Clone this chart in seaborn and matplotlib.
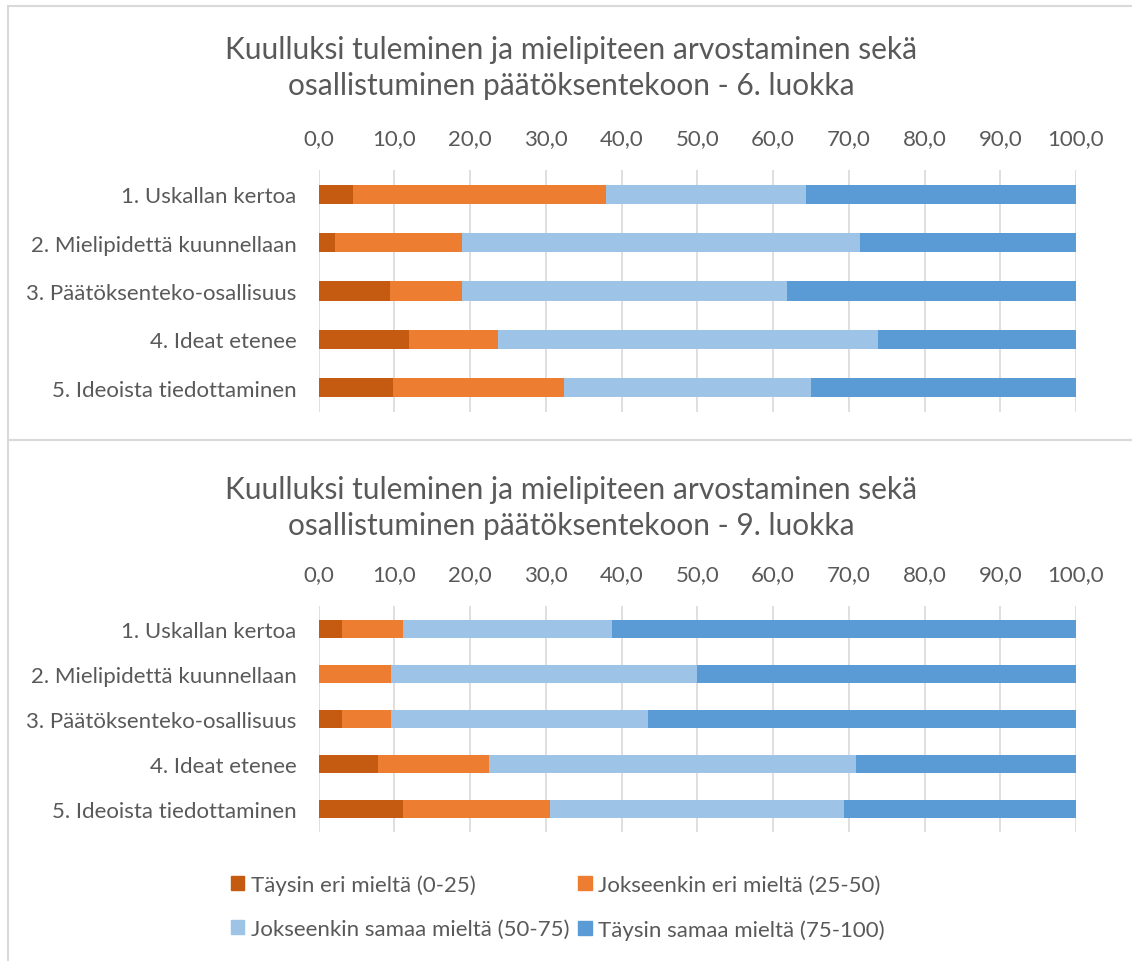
import numpy as np
import seaborn as sns
import matplotlib.pyplot as plt
from matplotlib.patches import Patch, Rectangle

sns.set_style("white")
plt.rcParams['font.family'] = ['Lato', 'DejaVu Sans']

# kysymykset ja vastausluokat
kysymykset = ['1. Uskallan kertoa', '2. Mielipidettä kuunnellaan',
              '3. Päätöksenteko-osallisuus', '4. Ideat etenee',
              '5. Ideoista tiedottaminen']
luokat = ['Täysin eri mieltä (0-25)', 'Jokseenkin eri mieltä (25-50)',
          'Jokseenkin samaa mieltä (50-75)', 'Täysin samaa mieltä (75-100)']
varit = ['#C55A11', '#ED7D31', '#9DC3E6', '#5B9BD5']
harmaa = '#595959'

# 6. luokka (%)
taysin_eri_6 = [4.6, 2.2, 9.4, 11.9, 9.8]
jokseenkin_eri_6 = [33.4, 16.8, 9.6, 11.8, 22.6]
jokseenkin_samaa_6 = [26.3, 52.5, 42.9, 50.2, 32.6]
taysin_samaa_6 = [35.7, 28.5, 38.1, 26.1, 35.0]

# 9. luokka (%)
taysin_eri_9 = [3.1, 0.0, 3.1, 7.9, 11.2]
jokseenkin_eri_9 = [8.1, 9.6, 6.5, 14.6, 19.4]
jokseenkin_samaa_9 = [27.5, 40.4, 33.9, 48.5, 38.8]
taysin_samaa_9 = [61.3, 50.0, 56.5, 29.0, 30.6]

otsikko_6 = 'Kuulluksi tuleminen ja mielipiteen arvostaminen sekä\nosallistuminen päätöksentekoon - 6. luokka'
otsikko_9 = 'Kuulluksi tuleminen ja mielipiteen arvostaminen sekä\nosallistuminen päätöksentekoon - 9. luokka'

W, H = 1132, 962
fig = plt.figure(figsize=(W / 100, H / 100), dpi=100)

koko = 16


def piirra(ax, osuudet):
    # pinotut palkit: piirretään kumulatiiviset summat takaperin päällekkäin
    kum = np.cumsum(np.array(osuudet), axis=0)
    for i in reversed(range(len(osuudet))):
        sns.barplot(x=kum[i], y=kysymykset, orient='h', color=varit[i],
                    saturation=1, width=0.4, linewidth=0, ax=ax, zorder=3)
    ax.set_xlim(0, 100)
    ax.set_ylim(4.5, -0.5)
    ticks = np.arange(0, 101, 10)
    ax.set_xticks(ticks)
    ax.set_xticklabels([f'{t:.1f}'.replace('.', ',') for t in ticks])
    ax.xaxis.tick_top()
    ax.tick_params(axis='x', length=0, pad=16, labelsize=koko, colors=harmaa)
    ax.tick_params(axis='y', length=0, pad=16, labelsize=koko, colors=harmaa)
    ax.grid(axis='x', color='#D9D9D9', linewidth=1.2, zorder=0)
    ax.set_axisbelow(True)
    for s in ax.spines.values():
        s.set_visible(False)
    ax.set_xlabel('')
    ax.set_ylabel('')


ax1 = fig.add_axes([318.5 / W, 1 - 413 / H, 757.5 / W, 242 / H])
piirra(ax1, [taysin_eri_6, jokseenkin_eri_6, jokseenkin_samaa_6, taysin_samaa_6])
fig.text(571 / W, 1 - 68 / H, otsikko_6, ha='center', va='center',
         fontsize=21.5, color=harmaa, linespacing=1.35)

ax2 = fig.add_axes([318.5 / W, 1 - 833 / H, 757.5 / W, 226 / H])
piirra(ax2, [taysin_eri_9, jokseenkin_eri_9, jokseenkin_samaa_9, taysin_samaa_9])
fig.text(571 / W, 1 - 508 / H, otsikko_9, ha='center', va='center',
         fontsize=21.5, color=harmaa, linespacing=1.35)

# kaavioiden reunat
fig.add_artist(Rectangle((8 / W, 1 - 441 / H), 1.0, 434 / H, transform=fig.transFigure,
                         fill=False, edgecolor='#D9D9D9', linewidth=1.5))
fig.add_artist(Rectangle((8 / W, -0.1), 1.0, 1 - 441 / H + 0.1, transform=fig.transFigure,
                         fill=False, edgecolor='#D9D9D9', linewidth=1.5))

kahvat = [Patch(color=c, label=l) for c, l in zip(varit, luokat)]
jarjestys = [0, 2, 1, 3]
fig.legend([kahvat[i] for i in jarjestys], [luokat[i] for i in jarjestys],
           loc='center', bbox_to_anchor=(558 / W, 1 - 908 / H), ncol=2,
           frameon=False, fontsize=koko, labelcolor=harmaa,
           handlelength=0.6, handleheight=0.6, handletextpad=0.3,
           columnspacing=0.4, labelspacing=1.1)

fig.savefig('out.png', dpi=100, facecolor='white')
